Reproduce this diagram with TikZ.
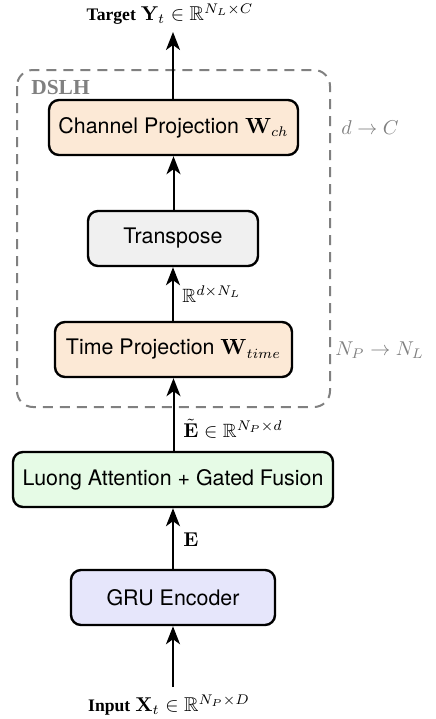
\documentclass[tikz,border=0pt]{standalone}
\usepackage[no-math]{fontspec}
\setmainfont{Liberation Serif}
\setsansfont{TeX Gyre Heros}
\usepackage{amsmath,amssymb}
\usetikzlibrary{arrows.meta}
\definecolor{peach}{HTML}{FCE9D6}
\definecolor{lgray}{HTML}{F0F0F0}
\definecolor{lgreen}{HTML}{E6FBE6}
\definecolor{lav}{HTML}{E6E6FB}
\definecolor{dgray}{HTML}{808080}
\newcommand{\ttlword}[1]{{\bfseries\fontsize{8.8}{10}\selectfont #1}}
\tikzset{
  blk/.style={draw=black, line width=1.2pt, rounded corners=5pt, minimum height=27.5pt,
    inner sep=0pt, font=\sffamily\fontsize{10.7}{12}\selectfont},
  lbl/.style={inner sep=0pt, anchor=west, font=\fontsize{9.6}{11}\selectfont},
  glbl/.style={inner sep=0pt, anchor=west, text=dgray, font=\fontsize{9.8}{11}\selectfont},
  ttl/.style={inner sep=0pt, font=\fontsize{10}{12}\selectfont},
  flow/.style={line width=1pt, -{Stealth[length=9pt,width=7pt,inset=2.5pt]}},
}
\begin{document}
\begin{tikzpicture}[x=0.5pt,y=-0.5pt]
\useasboundingbox (0,0) rectangle (435,719);
% DSLH dashed container
\draw[dgray, line width=1pt, dash pattern=on 5pt off 3.5pt, rounded corners=8pt] (17,70) rectangle (330,407);
\node[inner sep=0pt, text=dgray, anchor=west, font=\bfseries\fontsize{10.7}{12}\selectfont] (dslh) at (31,88) {DSLH};
% blocks
\node[blk, fill=peach, minimum width=124.5pt] (ch) at (173.5,127.5) {Channel Projection $\mathbf{W}_{ch}$};
\node[blk, fill=lgray, minimum width=85pt] (tr) at (173,238.5) {Transpose};
\node[blk, fill=peach, minimum width=118.5pt] (tp) at (173.5,349.5) {Time Projection $\mathbf{W}_{time}$};
\node[blk, fill=lgreen, minimum width=160pt] (lu) at (173,479.5) {Luong Attention + Gated Fusion};
\node[blk, fill=lav, minimum width=102pt] (gru) at (173,597.5) {GRU Encoder};
% endpoints and titles
\coordinate (top) at (173,32);
\coordinate (bot) at (173,687);
\node[ttl] (target) at (170,14) {\ttlword{Target} $\mathbf{Y}_t \in \mathbb{R}^{N_L\times C}$};
\node[ttl] (input) at (169,705) {\ttlword{Input} $\mathbf{X}_t \in \mathbb{R}^{N_P\times D}$};
% connectors
\draw[flow] (bot) -- (gru.south);
\draw[flow] (gru.north) -- (lu.south);
\draw[flow] (lu.north -| tp.south) -- (tp.south);
\draw[flow] (tp.north -| tr.south) -- (tr.south);
\draw[flow] (tr.north -| ch.south) -- (ch.south);
\draw[flow] (ch.north -| top) -- (top);
% labels
\node[lbl] (lE) at (183,540) {$\mathbf{E}$};
\node[lbl] (lEt) at (183,429) {$\tilde{\mathbf{E}} \in \mathbb{R}^{N_P\times d}$};
\node[lbl] (lR) at (182,294) {$\mathbb{R}^{d\times N_L}$};
\node[glbl] (ldc) at (341,128) {$d \rightarrow C$};
\node[glbl] (lnn) at (335,350) {$N_P \rightarrow N_L$};
\end{tikzpicture}
\end{document}
